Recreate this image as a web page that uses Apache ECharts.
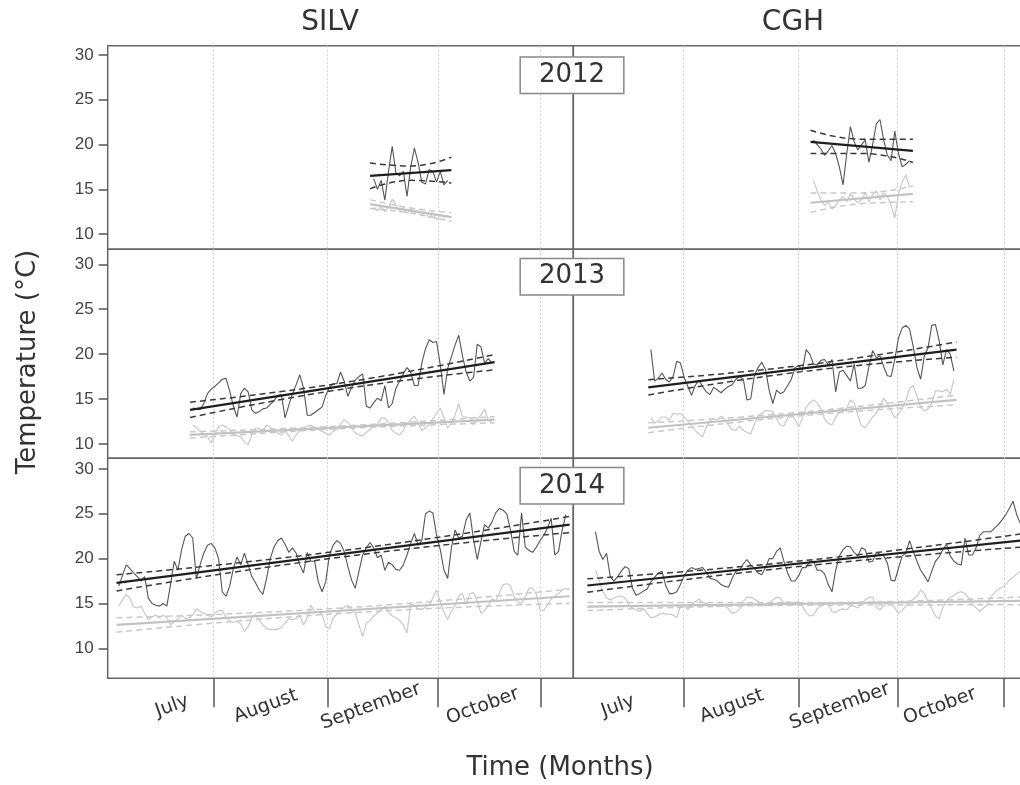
<!DOCTYPE html>
<html>
<head>
<meta charset="utf-8">
<title>Temperature by site and year</title>
<script src="https://cdn.jsdelivr.net/npm/echarts@6/dist/echarts.min.js"></script>
<style>
  html, body { margin: 0; padding: 0; background: #fff; }
  #chart { width: 1020px; height: 785px; }
</style>
</head>
<body>
<div id="chart"></div>
<script>
// facets
var sites = ['SILV', 'CGH'];
var years = ['2012', '2013', '2014'];
var months = ['July', 'August', 'September', 'October'];
var silvMonthStarts = [28.6, 59.5, 89.4, 117.1];
var cghMonthStarts = [29.8, 60.9, 87.8, 116.5];
var silvMonthMids = [17.4, 42.8, 71.2, 101.5];
var cghMonthMids = [12.1, 42.9, 72.1, 99.2];
var yTicks = [10, 15, 20, 25, 30];

// SILV 2012
var silv2012Start = 72;
var silv2012Dark = [16.2, 15.0, 16.0, 13.8, 17.0, 19.8, 16.8, 16.5, 17.0, 14.2, 17.5, 19.6, 18.0, 15.8, 15.6, 17.2, 17.0, 15.8, 17.0, 15.5, 16.0];
var silv2012Light = [13.0, 12.6, 13.1, 12.5, 13.0, 13.9, 13.2, 12.6, 12.9, 12.3, 12.8, 12.4, 12.6, 12.0, 12.5, 11.8, 12.3, 11.6, 12.2, 11.9, 12.1];
var silv2012FitX = [71, 93];
var silv2012DarkFit = [16.5, 17.15];
var silv2012DarkUpper = [17.95, 17.6, 18.6];
var silv2012DarkLower = [15.05, 16.0, 15.7];
var silv2012LightFit = [13.35, 11.9];
var silv2012LightUpper = [13.85, 12.9, 12.4];
var silv2012LightLower = [12.85, 12.35, 11.4];

// CGH 2012
var cgh2012Start = 65;
var cgh2012Dark = [20.5, 20.0, 19.5, 18.8, 19.3, 19.9, 19.0, 17.5, 15.5, 19.0, 22.0, 20.3, 19.4, 20.0, 20.5, 18.0, 20.0, 22.3, 22.8, 20.5, 18.8, 18.2, 21.5, 19.0, 17.5, 17.8, 18.2];
var cgh2012Light = [16.0, 14.8, 13.8, 13.2, 13.6, 12.8, 13.2, 13.8, 14.2, 13.6, 14.5, 13.9, 13.5, 13.8, 14.6, 13.6, 14.4, 14.8, 13.8, 14.6, 14.2, 13.2, 11.8, 14.5, 15.8, 16.6, 15.2];
var cgh2012FitX = [64.2, 91.9];
var cgh2012DarkFit = [20.3, 19.3];
var cgh2012DarkUpper = [21.6, 20.6, 20.6];
var cgh2012DarkLower = [19.0, 19.0, 18.0];
var cgh2012LightFit = [13.5, 14.5];
var cgh2012LightUpper = [14.6, 14.6, 15.4];
var cgh2012LightLower = [12.4, 13.4, 13.6];

// SILV 2013
var silv2013Start = 23;
var silv2013Dark = [14.0, 13.9, 13.8, 14.5, 15.6, 16.1, 16.4, 16.8, 17.2, 17.3,
  15.9, 14.2, 13.0, 15.6, 16.2, 15.8, 13.8, 13.4, 13.6, 13.9,
  14.0, 14.4, 14.8, 15.4, 15.5, 12.9, 14.3, 15.6, 16.6, 17.7,
  16.2, 13.2, 13.2, 13.5, 13.8, 14.1, 15.4, 16.3, 16.7, 16.7,
  18.0, 17.0, 15.3, 16.3, 17.1, 17.5, 17.8, 14.2, 14.0, 14.6,
  15.1, 14.8, 16.5, 14.0, 14.5, 16.2, 17.0, 17.8, 18.5, 18.0,
  16.5, 16.5, 19.0, 20.6, 21.6, 21.3, 21.4, 18.8, 15.5, 18.4,
  19.7, 21.0, 22.1, 19.8, 18.0, 17.0, 17.4, 21.1, 20.8, 19.0,
  19.5, 19.0];
var silv2013Light = [12.1, 11.8, 11.4, 11.1, 10.8, 10.1, 11.0, 11.9, 12.1, 11.9,
  11.6, 11.0, 10.9, 10.8, 10.2, 9.9, 11.0, 11.8, 11.7, 11.5,
  12.1, 11.8, 11.6, 11.2, 11.0, 11.6, 10.9, 10.3, 11.0, 11.6,
  11.8, 12.0, 12.1, 11.8, 11.6, 11.4, 11.2, 11.0, 11.4, 11.6,
  12.2, 12.7, 12.4, 11.8, 11.2, 11.0, 10.9, 11.3, 11.6, 12.0,
  12.2, 12.9, 12.9, 12.4, 11.5, 11.2, 11.0, 11.5, 12.3, 12.7,
  13.1, 12.3, 11.5, 11.8, 12.2, 12.8, 13.4, 14.0, 12.9, 11.8,
  12.3, 13.2, 14.5, 13.0, 13.0, 12.9, 12.1, 12.8, 13.2, 13.9,
  12.6, 12.5];
var silv2013FitX = [22.3, 104.7];
var silv2013DarkFit = [13.8, 19.1];
var silv2013DarkUpper = [14.65, 16.8, 19.95];
var silv2013DarkLower = [12.95, 16.1, 18.25];
var silv2013LightFit = [11.0, 12.7];
var silv2013LightUpper = [11.35, 12.0, 13.05];
var silv2013LightLower = [10.65, 11.7, 12.35];

// CGH 2013
var cgh2013Start = 21;
var cgh2013Dark = [20.5, 17.0, 17.3, 17.9, 17.2, 16.9, 17.5, 19.2, 19.0, 17.4,
  16.4, 15.4, 16.5, 17.1, 16.4, 15.8, 15.5, 16.3, 16.0, 15.7,
  16.1, 16.4, 16.6, 17.2, 17.5, 17.2, 14.9, 15.0, 17.6, 18.5,
  19.1, 18.3, 16.0, 14.5, 16.0, 15.6, 15.8, 16.5, 17.2, 18.5,
  18.7, 18.2, 20.5, 20.0, 18.9, 18.8, 19.3, 19.4, 18.8, 19.4,
  15.8, 18.0, 18.2, 17.6, 17.0, 18.9, 16.2, 16.2, 16.5, 18.6,
  20.4, 19.6, 19.8, 18.6, 17.6, 17.5, 19.4, 21.8, 22.9, 23.2,
  22.8, 20.8, 18.5, 17.2, 19.8, 20.7, 23.2, 23.3, 21.5, 18.8,
  20.5, 20.0, 18.1];
var cgh2013Light = [12.9, 12.3, 12.6, 13.0, 13.0, 12.6, 13.4, 13.3, 13.4, 13.0,
  12.5, 12.0, 11.5, 11.1, 10.8, 11.9, 12.6, 12.8, 12.7, 13.1,
  12.7, 12.1, 11.6, 11.5, 12.0, 11.5, 11.3, 11.1, 12.2, 13.2,
  13.4, 13.7, 13.7, 13.6, 12.8, 12.1, 12.0, 12.9, 13.3, 12.7,
  11.9, 12.9, 14.0, 14.6, 14.9, 14.6, 13.9, 12.8, 12.3, 12.1,
  13.0, 13.5, 13.6, 14.0, 14.9, 14.6, 13.2, 12.0, 11.8, 12.4,
  13.0, 13.4, 14.2, 15.1, 14.4, 13.7, 12.9, 13.3, 14.0, 14.8,
  16.2, 16.5, 15.3, 14.1, 13.7, 13.9, 14.5, 15.9, 15.9, 15.8,
  16.1, 15.5, 17.2];
var cgh2013FitX = [20.3, 103.7];
var cgh2013DarkFit = [16.3, 20.5];
var cgh2013DarkUpper = [17.15, 18.75, 21.35];
var cgh2013DarkLower = [15.45, 18.05, 19.65];
var cgh2013LightFit = [11.8, 14.9];
var cgh2013LightUpper = [12.35, 13.55, 15.45];
var cgh2013LightLower = [11.25, 13.15, 14.35];

// SILV 2014
var silv2014Start = 3;
var silv2014Dark = [16.95, 18.1, 19.3, 18.9, 18.4, 18.0, 17.5, 18.0, 15.6, 15.0,
  14.8, 14.7, 15.0, 14.7, 17.1, 19.7, 18.7, 21.0, 22.5, 22.8,
  22.3, 17.8, 19.3, 20.6, 21.5, 21.7, 21.2, 20.0, 16.3, 15.8,
  16.9, 18.9, 20.2, 19.3, 20.6, 19.3, 18.0, 17.3, 16.5, 16.0,
  17.8, 20.0, 21.3, 22.0, 22.3, 21.6, 20.7, 21.2, 20.6, 19.3,
  18.4, 20.7, 19.7, 19.7, 17.4, 16.3, 17.4, 20.4, 21.5, 22.0,
  21.7, 20.8, 19.1, 17.6, 16.7, 18.6, 20.4, 21.2, 21.8, 21.2,
  20.1, 20.4, 18.7, 19.6, 19.3, 18.8, 18.7, 19.3, 20.4, 21.7,
  22.8, 21.5, 22.0, 25.0, 25.3, 25.1, 22.6, 21.0, 18.7, 17.8,
  21.2, 23.2, 22.3, 22.5, 24.3, 25.1, 22.1, 19.9, 21.9, 23.8,
  23.4, 24.1, 25.1, 25.6, 25.4, 25.0, 23.2, 20.8, 20.4, 25.1,
  21.3, 20.9, 20.7, 21.3, 22.0, 22.6, 23.4, 24.5, 20.4, 20.8,
  23.2, 24.9];
var silv2014Light = [14.7, 15.4, 16.0, 15.6, 14.6, 14.5, 14.7, 13.9, 13.2, 13.5,
  13.7, 13.4, 13.7, 13.4, 12.6, 13.0, 13.3, 13.7, 13.3, 13.4,
  13.7, 14.4, 14.1, 13.9, 13.7, 13.5, 13.9, 14.2, 14.2, 13.5,
  13.0, 12.9, 13.0, 12.7, 11.9, 12.4, 13.4, 13.8, 13.1, 12.6,
  12.2, 12.1, 12.1, 12.1, 12.3, 12.8, 13.3, 13.2, 13.3, 13.7,
  12.6, 13.4, 14.8, 14.1, 14.1, 13.8, 12.4, 12.2, 13.4, 13.8,
  14.2, 14.6, 14.8, 14.3, 13.9, 12.6, 11.3, 12.8, 13.1, 13.6,
  13.9, 14.2, 14.7, 14.0, 13.6, 13.4, 13.1, 12.6, 11.7, 15.0,
  14.8, 14.4, 14.3, 14.6, 14.8, 15.6, 16.5, 15.2, 14.0, 13.2,
  14.1, 14.8, 15.8, 16.1, 14.9, 16.1, 16.2, 15.3, 13.9, 14.2,
  14.8, 15.5, 15.3, 16.2, 17.1, 17.2, 17.0, 15.7, 15.1, 15.0,
  15.7, 16.7, 16.7, 16.0, 14.3, 14.2, 14.8, 15.5, 15.8, 16.1,
  16.5, 16.7];
var silv2014FitX = [2.4, 125];
var silv2014DarkFit = [17.3, 23.8];
var silv2014DarkUpper = [18.2, 20.9, 24.7];
var silv2014DarkLower = [16.4, 20.2, 22.9];
var silv2014LightFit = [12.6, 15.8];
var silv2014LightUpper = [13.4, 14.5, 16.6];
var silv2014LightLower = [11.8, 13.9, 15.0];

// CGH 2014
var cgh2014Start = 6;
var cgh2014Dark = [23.0, 20.8, 19.9, 20.6, 18.0, 17.5, 18.0, 18.6, 19.1, 18.9,
  16.7, 15.9, 16.1, 16.4, 16.6, 17.4, 17.9, 18.4, 18.6, 17.0,
  16.1, 16.1, 16.3, 17.1, 18.1, 18.7, 19.0, 18.8, 18.9, 19.0,
  18.5, 17.8, 17.7, 17.5, 17.1, 16.9, 16.8, 17.8, 18.6, 18.7,
  19.4, 19.9, 19.3, 18.9, 18.4, 18.2, 19.0, 20.0, 20.0, 20.8,
  21.2, 19.7, 18.4, 17.5, 17.5, 18.1, 19.0, 19.0, 19.7, 19.7,
  18.7, 18.7, 18.3, 17.1, 16.3, 18.7, 20.3, 21.0, 21.4, 21.3,
  20.7, 20.3, 21.2, 21.0, 19.6, 19.7, 20.7, 20.5, 20.3, 19.5,
  17.6, 17.5, 18.9, 20.3, 20.6, 22.0, 20.8, 19.7, 18.7, 18.1,
  17.4, 18.6, 19.7, 20.2, 21.0, 21.6, 20.3, 19.7, 19.4, 19.3,
  22.3, 20.4, 20.4, 21.2, 22.6, 23.0, 23.0, 23.0, 23.4, 23.8,
  24.3, 24.9, 25.6, 26.4, 24.9, 23.9];
var cgh2014Light = [18.7, 17.6, 16.3, 15.6, 15.4, 15.6, 15.8, 15.8, 15.6, 14.8,
  14.5, 14.3, 14.1, 14.4, 13.9, 13.4, 13.5, 13.7, 13.9, 13.8,
  13.8, 13.7, 13.4, 14.7, 14.8, 14.3, 14.8, 15.2, 15.5, 15.1,
  15.0, 14.8, 14.8, 14.7, 14.8, 14.7, 14.4, 13.9, 14.0, 14.4,
  15.2, 15.7, 15.7, 15.5, 15.2, 15.0, 14.7, 15.0, 15.4, 15.7,
  15.6, 15.0, 15.2, 15.1, 15.1, 15.2, 14.7, 14.0, 13.6, 13.7,
  14.4, 14.7, 14.9, 15.0, 14.1, 14.0, 14.3, 14.4, 14.3, 14.7,
  14.7, 14.5, 15.0, 15.4, 15.7, 15.7, 14.6, 14.3, 14.7, 15.1,
  15.0, 14.5, 13.9, 14.2, 14.7, 15.2, 15.5, 15.8, 16.5, 16.1,
  15.2, 14.4, 13.6, 13.3, 14.5, 15.3, 15.7, 15.9, 16.2, 16.3,
  16.1, 15.6, 14.9, 14.5, 14.1, 14.5, 14.8, 15.7, 16.2, 16.6,
  16.8, 17.1, 17.6, 17.9, 18.3, 18.6];
var cgh2014FitX = [3.8, 122];
var cgh2014DarkFit = [17.0, 22.05];
var cgh2014DarkUpper = [17.75, 19.8, 22.8];
var cgh2014DarkLower = [16.25, 19.2, 21.3];
var cgh2014LightFit = [14.65, 15.3];
var cgh2014LightUpper = [15.1, 15.1, 15.75];
var cgh2014LightLower = [14.2, 14.8, 14.85];

var panels = [
  {row: 0, col: 0, start: silv2012Start, dark: silv2012Dark, light: silv2012Light, fitX: silv2012FitX,
    darkFit: silv2012DarkFit, darkUp: silv2012DarkUpper, darkLo: silv2012DarkLower,
    lightFit: silv2012LightFit, lightUp: silv2012LightUpper, lightLo: silv2012LightLower},
  {row: 0, col: 1, start: cgh2012Start, dark: cgh2012Dark, light: cgh2012Light, fitX: cgh2012FitX,
    darkFit: cgh2012DarkFit, darkUp: cgh2012DarkUpper, darkLo: cgh2012DarkLower,
    lightFit: cgh2012LightFit, lightUp: cgh2012LightUpper, lightLo: cgh2012LightLower},
  {row: 1, col: 0, start: silv2013Start, dark: silv2013Dark, light: silv2013Light, fitX: silv2013FitX,
    darkFit: silv2013DarkFit, darkUp: silv2013DarkUpper, darkLo: silv2013DarkLower,
    lightFit: silv2013LightFit, lightUp: silv2013LightUpper, lightLo: silv2013LightLower},
  {row: 1, col: 1, start: cgh2013Start, dark: cgh2013Dark, light: cgh2013Light, fitX: cgh2013FitX,
    darkFit: cgh2013DarkFit, darkUp: cgh2013DarkUpper, darkLo: cgh2013DarkLower,
    lightFit: cgh2013LightFit, lightUp: cgh2013LightUpper, lightLo: cgh2013LightLower},
  {row: 2, col: 0, start: silv2014Start, dark: silv2014Dark, light: silv2014Light, fitX: silv2014FitX,
    darkFit: silv2014DarkFit, darkUp: silv2014DarkUpper, darkLo: silv2014DarkLower,
    lightFit: silv2014LightFit, lightUp: silv2014LightUpper, lightLo: silv2014LightLower},
  {row: 2, col: 1, start: cgh2014Start, dark: cgh2014Dark, light: cgh2014Light, fitX: cgh2014FitX,
    darkFit: cgh2014DarkFit, darkUp: cgh2014DarkUpper, darkLo: cgh2014DarkLower,
    lightFit: cgh2014LightFit, lightUp: cgh2014LightUpper, lightLo: cgh2014LightLower}
];

// layout of the facet grid (the CGH column runs past the right edge, as in the cropped original)
var colLeft = [107.7, 573.3];
var colWidth = 465.6;
var rowTop = [45.7, 249.3, 458.3];
var rowHeight = [203.6, 209, 220];
var rowMin = [8.3, 8.4, 6.65];
var rowMax = [31.04, 31.67, 31.19];
var monthStarts = [silvMonthStarts, cghMonthStarts];
var monthMids = [silvMonthMids, cghMonthMids];

var font = '"DejaVu Sans", Verdana, sans-serif';

function daily(start, vals) {
  return vals.map(function (v, k) { return [start + k, v]; });
}
function fitLine(xs, ys) {
  return [[xs[0], ys[0]], [xs[1], ys[1]]];
}
function band(xs, ys) {
  return [[xs[0], ys[0]], [(xs[0] + xs[1]) / 2, ys[1]], [xs[1], ys[2]]];
}
function line(idx, data, color, width, dashed, z) {
  return {
    type: 'line', xAxisIndex: idx, yAxisIndex: idx, data: data,
    showSymbol: false, symbol: 'none', silent: true, smooth: dashed ? 0.5 : false,
    z: z,
    lineStyle: {color: color, width: width, type: dashed ? [6, 4] : 'solid'}
  };
}

var grid = [], xAxis = [], yAxis = [], series = [];

panels.forEach(function (p, i) {
  var bottom = p.row === 2;
  var mids = monthMids[p.col];
  grid.push({
    left: colLeft[p.col], top: rowTop[p.row], width: colWidth, height: rowHeight[p.row],
    outerBoundsMode: 'none', containLabel: false,
    show: true, borderColor: '#666', borderWidth: 1.5, backgroundColor: 'transparent'
  });
  xAxis.push({
    type: 'value', gridIndex: i, min: 0, max: 126,
    axisLine: {show: false},
    axisTick: {show: bottom, customValues: monthStarts[p.col], length: 29,
      lineStyle: {color: '#555', width: 1.5}},
    axisLabel: {show: bottom, customValues: mids, rotate: 20, align: 'center',
      verticalAlign: 'middle', margin: 28, color: '#333', fontSize: 19, fontFamily: font,
      formatter: function (v) {
        var k = mids.indexOf(v);
        return k >= 0 ? months[k] : '';
      }},
    splitLine: {show: true, lineStyle: {color: '#cfcfcf', width: 1, type: [2, 2]}}
  });
  yAxis.push({
    type: 'value', gridIndex: i, min: rowMin[p.row], max: rowMax[p.row],
    axisLine: {show: false},
    axisTick: {show: p.col === 0, customValues: yTicks, length: 9,
      lineStyle: {color: '#555', width: 1.5}},
    axisLabel: {show: p.col === 0, customValues: yTicks, margin: 14, color: '#444',
      fontSize: 17, fontFamily: '"Liberation Sans", Arial, sans-serif'},
    splitLine: {show: false}
  });

  series.push(line(i, daily(p.start, p.light), '#c9c9c9', 1.2, false, 2));
  series.push(line(i, fitLine(p.fitX, p.lightFit), '#c2c2c2', 2.2, false, 3));
  series.push(line(i, band(p.fitX, p.lightUp), '#c9c9c9', 1.5, true, 3));
  series.push(line(i, band(p.fitX, p.lightLo), '#c9c9c9', 1.5, true, 3));
  series.push(line(i, daily(p.start, p.dark), '#555555', 1.1, false, 4));
  series.push(line(i, fitLine(p.fitX, p.darkFit), '#1e1e1e', 2.2, false, 5));
  series.push(line(i, band(p.fitX, p.darkUp), '#3a3a3a', 1.5, true, 5));
  series.push(line(i, band(p.fitX, p.darkLo), '#3a3a3a', 1.5, true, 5));
});

var graphic = [
  {type: 'text', x: 330, y: 23, z: 100, style: {text: sites[0], font: '28px ' + font, fill: '#333', textAlign: 'center', textVerticalAlign: 'middle'}},
  {type: 'text', x: 793, y: 23, z: 100, style: {text: sites[1], font: '28px ' + font, fill: '#333', textAlign: 'center', textVerticalAlign: 'middle'}},
  {type: 'text', x: 28, y: 362, rotation: Math.PI / 2, z: 100, style: {text: 'Temperature (°C)', font: '26px ' + font, fill: '#333', textAlign: 'center', textVerticalAlign: 'middle'}},
  {type: 'text', x: 560, y: 768, z: 100, style: {text: 'Time (Months)', font: '26px ' + font, fill: '#333', textAlign: 'center', textVerticalAlign: 'middle'}}
];
var yearY = [75.3, 276.7, 485.8];
years.forEach(function (y, r) {
  graphic.push({
    type: 'text', x: 572, y: yearY[r], z: 100,
    style: {text: y, font: '26px ' + font, fill: '#333', textAlign: 'center', textVerticalAlign: 'middle',
      backgroundColor: '#fff', borderColor: '#888', borderWidth: 1.5, padding: [5, 18, 4, 18]}
  });
});

var chart = echarts.init(document.getElementById('chart'));
chart.setOption({
  animation: false,
  backgroundColor: '#fff',
  grid: grid,
  xAxis: xAxis,
  yAxis: yAxis,
  series: series,
  graphic: graphic
});
</script>
</body>
</html>
